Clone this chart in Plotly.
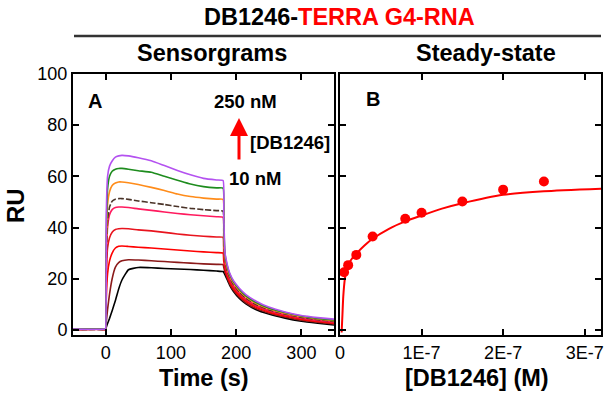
import plotly.graph_objects as go

W, H = 607, 398

# ---- Sensorgram data (time in s, response in RU) ----
t = [-50, -1, 0, 1, 3, 6, 10, 15, 20, 25, 35, 50, 70, 90, 110, 130, 150, 170, 180,
     181, 183, 186, 190, 196, 205, 215, 230, 250, 275, 300, 325, 350]

ru_black = [0.2, 0.2, 0.0, 1, 2.5, 4.5, 7.5, 11.5, 16, 19.5, 23.5, 24.4, 24.3, 24.0, 23.8, 23.6, 23.3, 23.0, 22.8,
            22.5, 21.5, 19.8, 17.5, 15.0, 12.3, 10.2, 8.0, 6.2, 4.6, 3.4, 2.6, 1.9]
ru_darkred = [0.2, 0.2, 0.0, 3, 8, 14, 20, 24.5, 26.3, 27, 27.4, 27.3, 27.0, 26.7, 26.4, 26.1, 25.8, 25.6, 25.5,
              24.5, 22.5, 20.5, 18.0, 15.5, 12.8, 10.6, 8.4, 6.6, 5.0, 3.8, 3.0, 2.3]
ru_red2 = [0.2, 0.2, 0.0, 12, 22, 27, 30, 32, 32.7, 32.8, 32.6, 32.3, 32.0, 31.6, 31.2, 30.8, 30.5, 30.2, 30.0,
           27, 24, 21.2, 18.8, 16.2, 13.4, 11.2, 8.9, 7.0, 5.4, 4.2, 3.3, 2.6]
ru_red1 = [0.2, 0.2, 0.0, 20, 32, 36, 38.2, 39.2, 39.5, 39.6, 39.5, 39.1, 38.7, 38.1, 37.5, 37.0, 36.6, 36.3, 36.2,
           30, 25.5, 22.2, 19.5, 16.8, 14.0, 11.7, 9.4, 7.4, 5.8, 4.5, 3.6, 2.9]
ru_crimson = [0.2, 0.2, 0.2, 25, 40, 45, 47, 47.8, 48, 48, 47.8, 47.3, 46.7, 46.1, 45.5, 45.0, 44.6, 44.2, 44.0,
              33, 26.5, 22.8, 20.1, 17.3, 14.5, 12.1, 9.7, 7.7, 6.0, 4.7, 3.8, 3.1]
ru_brown = [0.2, 0.2, 0.2, 28, 43, 48, 50.3, 51.1, 51.3, 51.3, 51.0, 50.4, 49.7, 49.0, 48.2, 47.5, 47.0, 46.6, 46.4,
            35, 27.5, 23.5, 20.6, 17.7, 14.8, 12.4, 10.0, 7.9, 6.2, 4.9, 4.0, 3.3]
ru_orange = [0.3, 0.3, 0.3, 32, 49, 54, 56.4, 57.4, 57.8, 57.8, 57.5, 56.8, 55.7, 54.5, 53.1, 52.1, 51.5, 51.1, 51.0,
             38, 28.5, 24.5, 21.3, 18.3, 15.3, 12.9, 10.4, 8.3, 6.5, 5.2, 4.3, 3.6]
ru_green = [0.3, 0.3, 0.3, 38, 55, 60, 62, 62.8, 63.1, 63.1, 62.8, 62.2, 61.6, 60.0, 58.5, 57.0, 56.0, 55.5, 55.4,
            42, 29.5, 25.3, 21.9, 18.8, 15.8, 13.3, 10.8, 8.6, 6.8, 5.4, 4.5, 3.9]
ru_purple = [0.3, 0.3, 0.5, 45, 60, 64, 66, 67.5, 68, 68.2, 68.0, 67.3, 66.1, 64.2, 62.3, 60.6, 59.2, 58.6, 58.4,
             45, 30, 26, 22.3, 19.2, 16.3, 13.8, 11.3, 8.9, 7.0, 5.6, 4.8, 4.2]

series = [
    (ru_black, "#000000", "solid"),
    (ru_darkred, "#8b1a1a", "solid"),
    (ru_red2, "#ff0000", "solid"),
    (ru_red1, "#e8141e", "solid"),
    (ru_crimson, "#ff1a5e", "solid"),
    (ru_brown, "#4a3328", "6px,2px"),
    (ru_orange, "#ff8c1a", "solid"),
    (ru_green, "#1e8c1e", "solid"),
    (ru_purple, "#b452f0", "solid"),
]

# ---- Steady-state data ----
conc = [5e-9, 1e-8, 2e-8, 4e-8, 8e-8, 1e-7, 1.5e-7, 2e-7, 2.5e-7]
ru_ss = [22.5, 25.3, 29.3, 36.5, 43.4, 45.8, 50.2, 54.8, 58.0]

fit_conc = [2e-9, 3e-9, 4e-9, 6e-9, 8e-9, 1e-8, 1.5e-8, 2e-8, 3e-8, 4e-8, 6e-8, 8e-8, 1e-7,
            1.25e-7, 1.5e-7, 2e-7, 2.5e-7, 3.2e-7]
fit_ru = [-1, 6, 13, 20, 23.5, 25.5, 28, 29.8, 33, 35.6, 39.5, 42.4, 44.7,
          47.4, 49.5, 52.8, 54.2, 55.2]

y_ticks = [0, 20, 40, 60, 80, 100]
x1_ticks = [0, 100, 200, 300]
x2_ticks = [0, 1e-7, 2e-7, 3e-7]
x2_labels = ["0", "1E-7", "2E-7", "3E-7"]

FONT = "Liberation Sans, Arial, sans-serif"

fig = go.Figure()
for ys, col, dash in series:
    fig.add_trace(go.Scatter(x=t, y=ys, mode="lines", xaxis="x", yaxis="y",
                             line=dict(color=col, width=1.6, dash=dash, shape="spline", smoothing=0.4),
                             showlegend=False, hoverinfo="skip"))

fig.add_trace(go.Scatter(x=fit_conc, y=fit_ru, mode="lines", xaxis="x2", yaxis="y2",
                         line=dict(color="#ff0000", width=2, shape="spline", smoothing=0.6),
                         showlegend=False, hoverinfo="skip"))
fig.add_trace(go.Scatter(x=conc, y=ru_ss, mode="markers", xaxis="x2", yaxis="y2",
                         marker=dict(color="#ff0000", size=10, line=dict(width=0)),
                         showlegend=False, hoverinfo="skip"))

def px_x(p):
    return p / W

def px_y(p):
    return (H - p) / H

axis_common = dict(showline=True, linecolor="#000", linewidth=2, mirror="ticks",
                   ticks="inside", ticklen=6, tickwidth=2, tickcolor="#000",
                   showgrid=False, zeroline=False, automargin=False,
                   tickfont=dict(family=FONT, size=18, color="#000"))

fig.update_layout(
    width=W, height=H, margin=dict(l=0, r=0, t=0, b=0),
    paper_bgcolor="white", plot_bgcolor="white",
    font=dict(family=FONT, color="#000"),
    xaxis=dict(domain=[px_x(73), px_x(334)], range=[-50, 350], tickvals=x1_ticks,
               **axis_common),
    yaxis=dict(domain=[px_y(335), px_y(74)], range=[-2, 100], tickvals=y_ticks,
               **axis_common),
    xaxis2=dict(domain=[px_x(340), px_x(601)], range=[0, 3.2e-7], anchor="y2",
                tickvals=x2_ticks, ticktext=x2_labels, **axis_common),
    yaxis2=dict(domain=[px_y(335), px_y(74)], range=[-2, 100], anchor="x2",
                tickvals=y_ticks, showticklabels=False, **axis_common),
)
fig.update_xaxes(tickprefix="<b>", ticksuffix="</b>")
fig.update_yaxes(tickprefix="<b>", ticksuffix="</b>")

# title line
fig.add_shape(type="line", xref="paper", yref="paper", x0=px_x(74), x1=px_x(601),
              y0=px_y(36), y1=px_y(36), line=dict(color="#333", width=2.5))

def ann(text, x, y, size, color="#000", angle=0):
    fig.add_annotation(text=text, xref="paper", yref="paper", x=px_x(x), y=px_y(y),
                       xanchor="center", yanchor="middle", showarrow=False, textangle=angle,
                       font=dict(family=FONT, size=size, color=color))

ann("<b>DB1246-<span style='color:#ff0000'>TERRA G4-RNA</span></b>", 339, 17, 23.5)
ann("<b>Sensorgrams</b>", 212, 53, 23.5)
ann("<b>Steady-state</b>", 486, 53, 23.5)
ann("<b>Time (s)</b>", 204, 378, 23.5)
ann("<b>[DB1246] (M)</b>", 477, 378, 23.5)
ann("<b>RU</b>", 15, 206, 24, angle=-90)
ann("<b>A</b>", 95, 101, 20)
ann("<b>B</b>", 373, 99, 20)
ann("<b>250 nM</b>", 245, 101, 18.5)
ann("<b>[DB1246]</b>", 290, 142, 18.5)
ann("<b>10 nM</b>", 255, 178, 18.5)

# red arrow
fig.add_annotation(xref="paper", yref="paper", x=px_x(239), y=px_y(118),
                   ax=0, ay=43, axref="pixel", ayref="pixel",
                   showarrow=True, arrowhead=2, arrowsize=1.2, arrowwidth=3,
                   arrowcolor="#ff0000", text="")

fig.write_html("out.html", config={"displayModeBar": False, "staticPlot": True},
               post_script="document.body.style.margin='0';document.body.style.overflow='hidden';")
